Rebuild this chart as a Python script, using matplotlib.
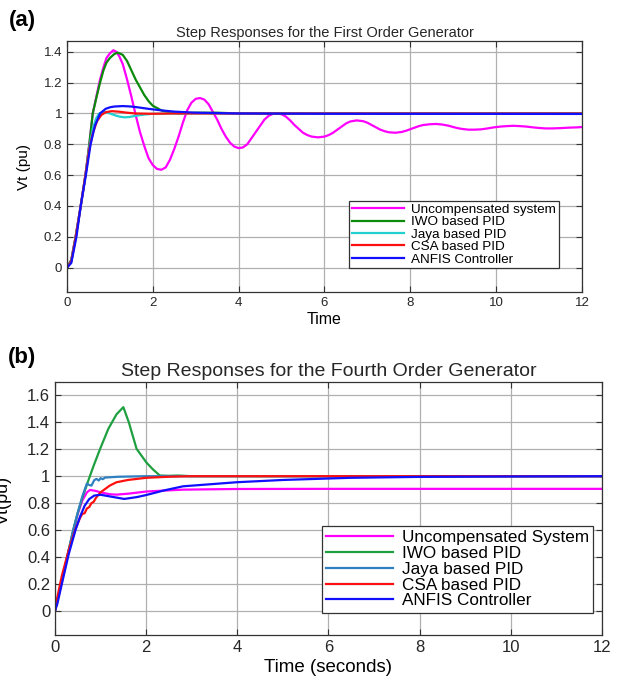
import matplotlib
matplotlib.use("Agg")
import matplotlib.pyplot as plt
import numpy as np

plt.rcParams['font.family'] = ['Liberation Sans', 'DejaVu Sans']

# ---- (a) first order generator ----
labels_a = ['Uncompensated system', 'IWO based PID', 'Jaya based PID',
            'CSA based PID', 'ANFIS Controller']

t_unc_a = [0, 0.1, 0.2, 0.32, 0.43, 0.52, 0.6, 0.7, 0.77, 0.85, 0.92, 1.0, 1.08,
           1.15, 1.22, 1.3, 1.4, 1.5, 1.6, 1.7, 1.8, 1.9, 2.0, 2.1, 2.2, 2.3,
           2.4, 2.5, 2.6, 2.7, 2.8, 2.9, 3.0, 3.1, 3.2, 3.3, 3.4, 3.5, 3.6,
           3.7, 3.8, 3.9, 4.0, 4.1, 4.2, 4.3, 4.4, 4.5, 4.6, 4.7, 4.8, 4.9,
           5.0, 5.1, 5.2, 5.3, 5.4, 5.5, 5.6, 5.7, 5.85, 6.0, 6.1, 6.2, 6.3,
           6.4, 6.5, 6.6, 6.75, 6.9, 7.0, 7.1, 7.2, 7.3, 7.4, 7.5, 7.65, 7.8,
           7.9, 8.0, 8.1, 8.2, 8.3, 8.45, 8.6, 8.75, 8.9, 9.0, 9.1, 9.2, 9.35,
           9.5, 9.65, 9.8, 9.95, 10.1, 10.25, 10.4, 10.55, 10.7, 10.85, 11.0,
           11.15, 11.3, 11.5, 11.7, 11.9, 12.0]
v_unc_a = [0, 0.05, 0.2, 0.4, 0.6, 0.8, 1.0, 1.13, 1.22, 1.3, 1.36, 1.39, 1.41,
           1.40, 1.37, 1.32, 1.22, 1.11, 0.99, 0.88, 0.79, 0.71, 0.665, 0.64, 0.635, 0.65,
           0.70, 0.77, 0.85, 0.94, 1.02, 1.07, 1.095, 1.10, 1.09, 1.06, 1.01, 0.96, 0.90,
           0.85, 0.81, 0.785, 0.775, 0.78, 0.80, 0.84, 0.88, 0.92, 0.96, 0.985, 0.998, 1.0,
           0.995, 0.98, 0.955, 0.925, 0.90, 0.875, 0.86, 0.85, 0.845, 0.85, 0.86, 0.875, 0.895,
           0.915, 0.935, 0.948, 0.955, 0.95, 0.94, 0.925, 0.91, 0.895, 0.885, 0.878, 0.875, 0.88,
           0.888, 0.898, 0.908, 0.918, 0.925, 0.93, 0.932, 0.928, 0.92, 0.912, 0.905, 0.90, 0.895,
           0.895, 0.897, 0.903, 0.91, 0.915, 0.918, 0.92, 0.918, 0.915, 0.91, 0.906,
           0.903, 0.903, 0.905, 0.908, 0.91, 0.912]

t_iwo_a = [0, 0.1, 0.2, 0.32, 0.43, 0.52, 0.6, 0.7, 0.77, 0.85, 0.92, 1.0, 1.1, 1.18,
           1.3, 1.4, 1.5, 1.6, 1.7, 1.8, 1.9, 2.0, 2.2, 2.4, 2.6, 3.0, 3.5, 4.0, 12.0]
v_iwo_a = [0, 0.05, 0.2, 0.4, 0.6, 0.8, 1.0, 1.12, 1.2, 1.28, 1.33, 1.36, 1.385, 1.395,
           1.38, 1.34, 1.28, 1.22, 1.17, 1.12, 1.08, 1.05, 1.02, 1.005, 1.0, 1.005, 1.005, 1.0, 1.0]

t_jaya_a = [0, 0.1, 0.2, 0.32, 0.43, 0.52, 0.6, 0.68, 0.75, 0.85, 0.95, 1.05, 1.15, 1.25,
            1.35, 1.45, 1.6, 1.8, 2.0, 2.5, 12.0]
v_jaya_a = [0, 0.04, 0.19, 0.4, 0.6, 0.78, 0.9, 0.97, 1.0, 1.01, 1.005, 0.995, 0.985, 0.978,
            0.975, 0.977, 0.985, 0.993, 0.998, 1.0, 1.0]

t_csa_a = [0, 0.1, 0.2, 0.32, 0.43, 0.52, 0.6, 0.7, 0.8, 0.9, 1.04, 1.2, 1.4, 1.6, 2.0,
           2.5, 12.0]
v_csa_a = [0, 0.04, 0.19, 0.4, 0.6, 0.77, 0.87, 0.95, 0.99, 1.008, 1.015, 1.012, 1.005,
           1.0, 0.998, 1.0, 1.0]

t_anf_a = [0, 0.1, 0.22, 0.32, 0.44, 0.55, 0.65, 0.77, 0.9, 1.0, 1.1, 1.3, 1.5, 1.7,
           1.9, 2.2, 2.5, 3.0, 4.0, 6.0, 12.0]
v_anf_a = [0, 0.03, 0.2, 0.4, 0.6, 0.8, 0.92, 1.0, 1.03, 1.04, 1.045, 1.048, 1.045,
           1.038, 1.03, 1.02, 1.012, 1.005, 1.0, 0.998, 0.997]

# ---- (b) fourth order generator ----
labels_b = ['Uncompensated System', 'IWO based PID', 'Jaya based PID',
            'CSA based PID', 'ANFIS Controller']

t_unc_b = [0, 0.1, 0.2, 0.3, 0.4, 0.5, 0.6, 0.7, 0.77, 0.9, 1.0, 1.2, 1.35, 1.6, 2.0,
           2.5, 2.8, 3.5, 4.0, 6.0, 12.0]
v_unc_b = [0, 0.14, 0.29, 0.44, 0.59, 0.72, 0.82, 0.88, 0.898, 0.89, 0.88, 0.866, 0.863,
           0.87, 0.886, 0.895, 0.9, 0.903, 0.905, 0.906, 0.906]

t_iwo_b = [0, 0.1, 0.2, 0.3, 0.4, 0.5, 0.6, 0.73, 0.85, 0.99, 1.17, 1.35, 1.5, 1.62,
           1.79, 2.01, 2.15, 2.3, 2.5, 2.7, 3.0, 12.0]
v_iwo_b = [0, 0.15, 0.3, 0.45, 0.6, 0.73, 0.84, 0.967, 1.08, 1.203, 1.352, 1.46, 1.513,
           1.40, 1.203, 1.10, 1.05, 1.005, 1.003, 1.005, 1.0, 1.0]

t_jaya_b = [0, 0.1, 0.2, 0.3, 0.4, 0.5, 0.6, 0.7, 0.75, 0.8, 0.86, 0.91, 0.96, 1.0,
            1.05, 1.1, 1.2, 1.4, 1.7, 2.0, 12.0]
v_jaya_b = [0, 0.15, 0.3, 0.45, 0.6, 0.73, 0.85, 0.945, 0.935, 0.93, 0.97, 0.98, 0.968,
            0.985, 0.978, 0.99, 0.992, 0.996, 0.998, 1.0, 1.0]

t_csa_b = [0, 0.05, 0.15, 0.3, 0.45, 0.55, 0.6, 0.65, 0.7, 0.75, 0.8, 0.85, 0.9, 1.0,
           1.2, 1.35, 1.6, 2.0, 2.5, 3.0, 12.0]
v_csa_b = [0, 0.1, 0.26, 0.45, 0.61, 0.69, 0.72, 0.725, 0.76, 0.77, 0.8, 0.81, 0.84,
           0.88, 0.93, 0.955, 0.972, 0.988, 0.996, 1.0, 1.0]

t_anf_b = [0, 0.05, 0.15, 0.3, 0.45, 0.55, 0.65, 0.75, 0.86, 1.0, 1.2, 1.52, 1.8, 2.0,
           2.4, 2.81, 3.4, 3.98, 5.0, 6.47, 8.0, 10.0, 12.0]
v_anf_b = [0, 0.05, 0.2, 0.42, 0.6, 0.7, 0.78, 0.83, 0.856, 0.862, 0.85, 0.831, 0.845,
           0.86, 0.895, 0.925, 0.94, 0.955, 0.972, 0.988, 0.995, 0.998, 1.0]

cols_a = ['#ff00ff', '#0b8a0b', '#22d0d0', '#ff1010', '#1010ff']
cols_b = ['#ff00ff', '#1fa040', '#2f80c0', '#ff1010', '#1010ff']

fig = plt.figure(figsize=(6.18, 6.78), dpi=100)


def style_axes(ax, fs):
    ax.grid(True, color='#b0b0b0', linewidth=0.9)
    ax.set_axisbelow(True)
    ax.tick_params(direction='in', top=True, right=True, labelsize=fs,
                   length=4, color='#333333', labelcolor='#262626')
    for s in ax.spines.values():
        s.set_color('#333333')
        s.set_linewidth(0.9)
    ax.set_xlim(0, 12)
    ax.set_xticks(np.arange(0, 13, 2))


#%% panel (a)
ax1 = fig.add_axes([0.1084, 0.5689, 0.8333, 0.3706])
series_a = [(t_unc_a, v_unc_a), (t_iwo_a, v_iwo_a), (t_jaya_a, v_jaya_a),
            (t_csa_a, v_csa_a), (t_anf_a, v_anf_a)]
for (t, v), c, lab in zip(series_a, cols_a, labels_a):
    ax1.plot(t, v, color=c, lw=1.6, label=lab)
style_axes(ax1, 9.5)
ax1.set_ylim(-0.16, 1.47)
ax1.set_yticks([0, 0.2, 0.4, 0.6, 0.8, 1.0, 1.2, 1.4])
ax1.set_yticklabels(['0', '0.2', '0.4', '0.6', '0.8', '1', '1.2', '1.4'])
ax1.set_title('Step Responses for the First Order Generator', fontsize=10.5,
              color='#262626', pad=3)
ax1.set_xlabel('Time', fontsize=11.5, labelpad=2)
ax1.set_ylabel('Vt (pu)', fontsize=11, labelpad=9)
leg1 = ax1.legend(loc='upper right', bbox_to_anchor=(0.955, 0.3645), fontsize=9.7,
                  fancybox=False, framealpha=1, edgecolor='#333333',
                  handlelength=3.9, borderpad=0.2, labelspacing=0.0,
                  handletextpad=0.5, borderaxespad=0)
leg1.get_frame().set_linewidth(0.9)

#%% panel (b)
ax2 = fig.add_axes([0.089, 0.0634, 0.885, 0.3732])
series_b = [(t_unc_b, v_unc_b), (t_iwo_b, v_iwo_b), (t_jaya_b, v_jaya_b),
            (t_csa_b, v_csa_b), (t_anf_b, v_anf_b)]
for (t, v), c, lab in zip(series_b, cols_b, labels_b):
    ax2.plot(t, v, color=c, lw=1.6, label=lab)
style_axes(ax2, 12)
ax2.set_ylim(-0.18, 1.7)
ax2.set_yticks([0, 0.2, 0.4, 0.6, 0.8, 1.0, 1.2, 1.4, 1.6])
ax2.set_yticklabels(['0', '0.2', '0.4', '0.6', '0.8', '1', '1.2', '1.4', '1.6'])
ax2.set_title('Step Responses for the Fourth Order Generator', fontsize=14,
              color='#262626', pad=4)
ax2.set_xlabel('Time (seconds)', fontsize=13.5, labelpad=3)
leg2 = ax2.legend(loc='upper right', bbox_to_anchor=(0.9835, 0.432), fontsize=12.3,
                  fancybox=False, framealpha=1, edgecolor='#333333',
                  handlelength=3.9, borderpad=0.25, labelspacing=0.05,
                  handletextpad=0.5, borderaxespad=0)
leg2.get_frame().set_linewidth(0.9)

# y label of panel (b) sits partly off the left edge, as in the original figure
fig.text(0.006, 0.262, 'Vt(pu)', rotation=90, fontsize=13, va='center', ha='center')
fig.text(0.015, 0.97, '(a)', fontsize=16, fontweight='bold', va='center')
fig.text(0.012, 0.472, '(b)', fontsize=16, fontweight='bold', va='center')

fig.savefig('out.png', dpi=100)
